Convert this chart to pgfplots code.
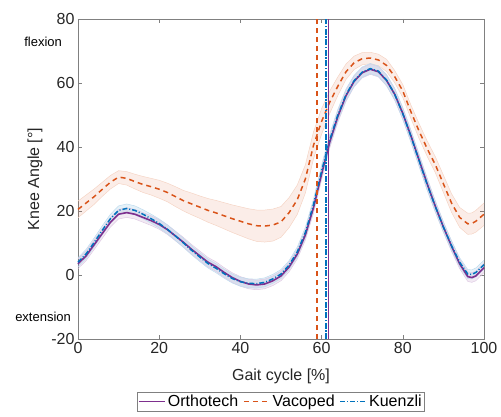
\documentclass[border=0pt]{standalone}
\usepackage{fontspec}
\setmainfont{Liberation Sans}
\usepackage{pgfplots}
\usepackage{pgfplotstable}
\pgfplotsset{compat=1.18}

\definecolor{orth}{RGB}{126,47,142}
\definecolor{vaco}{RGB}{217,83,25}
\definecolor{kuen}{RGB}{0,114,189}
\definecolor{axgray}{RGB}{128,128,128}
\definecolor{txt}{RGB}{38,38,38}

% mean curve (y) and half width of the shaded band (e)
\pgfplotstableread{
x y e
0 3.5 1.5
2 6 1.5
4 9.5 1.5
6 13 1.5
8 16.5 1.5
10 19 1.5
12 19.5 1.5
14 19 1.5
16 18 1.5
18 17 1.5
20 15.8 1.5
22 14.2 1.5
24 12.2 1.5
26 10.2 1.5
28 8 1.5
30 6 1.5
32 4 1.5
34 2.6 1.5
36 0.8 1.5
38 -0.8 1.5
40 -2 1.5
42 -2.8 1.5
44 -3.1 1.5
46 -2.8 1.5
48 -1.8 1.5
50 -0.3 1.5
52 2.5 1.5
54 6.5 1.5
56 12.5 1.6
58 21 1.7
60 31.5 1.8
62 41.5 1.8
64 49.5 1.8
66 56 1.8
68 60.5 1.7
70 63.2 1.6
72 64.3 1.6
74 63.5 1.6
76 60.8 1.7
78 56.5 1.8
80 50.5 1.8
82 43.5 1.8
84 36 1.8
86 28.5 1.8
88 21.5 1.7
90 15 1.6
92 9 1.6
94 3.5 1.5
96 -0.5 1.5
97 -0.8 1.5
98 -0.3 1.5
100 2.3 1.5
}\orthotech

\pgfplotstableread{
x y e
0 20.5 2.6
2 22.5 2.5
4 24.5 2.4
6 26.8 2.2
8 29 2.1
10 30.6 2
12 30.2 2.1
14 29.2 2.3
16 28.3 2.5
18 27.6 2.6
20 26.8 2.8
22 25.8 2.9
24 24.5 3.1
26 23.2 3.2
28 22.2 3.4
30 21.2 3.5
32 20.2 3.7
34 19.4 3.9
36 18.5 4.1
38 17.6 4.3
40 16.8 4.5
42 16 4.7
44 15.4 4.9
46 15.3 5
48 15.6 5
50 16.6 4.8
52 19.5 4.7
54 23.5 4.6
56 30 4.4
58 40.5 4.2
60 48 4
62 54 3.5
64 59 2.9
66 63.5 2.4
68 66.3 2.1
70 67.6 1.9
72 67.8 1.8
74 67.2 1.8
76 65.5 1.9
78 62 1.9
80 57.5 2
82 51 2.1
84 45 2.3
86 39.5 2.4
88 34.5 2.5
90 28.5 2.7
92 22.5 2.9
94 18 3.1
96 16 3.3
97 16.1 3.3
98 16.8 3.4
100 19 3.5
}\vacoped

\pgfplotstableread{
x y e
0 4 1.4
2 6.6 1.4
4 10.2 1.4
6 14 1.4
8 17.6 1.4
10 20.2 1.4
12 20.8 1.4
14 20.2 1.4
16 19 1.4
18 17.6 1.4
20 16.1 1.4
22 14.3 1.4
24 12.2 1.4
26 10 1.4
28 7.7 1.4
30 5.6 1.4
32 3.6 1.4
34 2.1 1.4
36 0.4 1.4
38 -1.1 1.4
40 -2.1 1.4
42 -2.6 1.4
44 -2.7 1.4
46 -2.3 1.4
48 -1.2 1.4
50 0.3 1.4
52 3.1 1.4
54 7.2 1.5
56 13.3 1.6
58 22 1.7
60 32.5 1.8
62 42.2 1.8
64 50 1.8
66 56.3 1.8
68 60.7 1.7
70 63.4 1.6
72 64.5 1.6
74 63.7 1.6
76 60.9 1.7
78 56.5 1.8
80 50.4 1.8
82 43.3 1.8
84 35.8 1.8
86 28.3 1.8
88 21.4 1.7
90 15 1.6
92 9.2 1.5
94 4 1.4
96 0.3 1.4
97 0.2 1.4
98 0.8 1.4
100 3.2 1.4
}\kuenzli

\begin{document}
\begin{tikzpicture}
\begin{axis}[
  scale only axis,
  width=406pt, height=320pt,
  xmin=0, xmax=100, ymin=-20, ymax=80,
  xtick={0,20,...,100}, ytick={-20,0,...,80},
  tick align=inside, major tick length=4pt,
  axis line style={axgray, line width=0.6pt},
  tick style={axgray, line width=0.6pt},
  /pgf/number format/assume math mode=true,
  ticklabel style={font=\fontsize{16}{19}\selectfont, text=txt},
  xlabel={Gait cycle [\%]}, ylabel={Knee Angle [°]},
  label style={font=\fontsize{16}{19}\selectfont, text=txt},
  xlabel style={at={(axis description cs:0.5,-0.118)}, anchor=center},
  ylabel style={at={(axis description cs:-0.106,0.5)}, anchor=center},
  clip=false,
  legend columns=3,
  legend style={at={(axis description cs:0.5,-0.165)}, anchor=north,
    draw=axgray, font=\fontsize{16}{19}\selectfont,
    inner sep=1pt, /tikz/every even column/.append style={column sep=3pt}},
  legend image code/.code={\draw[#1] (0pt,0pt) -- (26pt,0pt);},
]
% shaded bands: lower edge, then band width stacked on it, then back to zero
\addplot[draw=none, stack plots=y, forget plot] table[x=x, y expr=\thisrow{y}-\thisrow{e}] {\vacoped};
\addplot[fill=vaco, fill opacity=0.1, draw=none, stack plots=y, forget plot] table[x=x, y expr=2*\thisrow{e}] {\vacoped} \closedcycle;
\addplot[draw=none, stack plots=y, forget plot] table[x=x, y expr=-\thisrow{y}-\thisrow{e}] {\vacoped};

\addplot[draw=none, stack plots=y, forget plot] table[x=x, y expr=\thisrow{y}-\thisrow{e}] {\orthotech};
\addplot[fill=orth, fill opacity=0.1, draw=none, stack plots=y, forget plot] table[x=x, y expr=2*\thisrow{e}] {\orthotech} \closedcycle;
\addplot[draw=none, stack plots=y, forget plot] table[x=x, y expr=-\thisrow{y}-\thisrow{e}] {\orthotech};

\addplot[draw=none, stack plots=y, forget plot] table[x=x, y expr=\thisrow{y}-\thisrow{e}] {\kuenzli};
\addplot[fill=kuen, fill opacity=0.1, draw=none, stack plots=y, forget plot] table[x=x, y expr=2*\thisrow{e}] {\kuenzli} \closedcycle;
\addplot[draw=none, stack plots=y, forget plot] table[x=x, y expr=-\thisrow{y}-\thisrow{e}] {\kuenzli};

% band edges
\addplot[draw=vaco!25, line width=0.5pt, forget plot] table[x=x, y expr=\thisrow{y}+\thisrow{e}] {\vacoped};
\addplot[draw=vaco!25, line width=0.5pt, forget plot] table[x=x, y expr=\thisrow{y}-\thisrow{e}] {\vacoped};
\addplot[draw=orth!25, line width=0.5pt, forget plot] table[x=x, y expr=\thisrow{y}+\thisrow{e}] {\orthotech};
\addplot[draw=orth!25, line width=0.5pt, forget plot] table[x=x, y expr=\thisrow{y}-\thisrow{e}] {\orthotech};
\addplot[draw=kuen!25, line width=0.5pt, forget plot] table[x=x, y expr=\thisrow{y}+\thisrow{e}] {\kuenzli};
\addplot[draw=kuen!25, line width=0.5pt, forget plot] table[x=x, y expr=\thisrow{y}-\thisrow{e}] {\kuenzli};

% means
\addplot[color=orth, line width=1.6pt] table[x=x, y=y] {\orthotech};
\addlegendentry{Orthotech}
\addplot[color=vaco, line width=1.5pt, dash pattern=on 5pt off 4pt] table[x=x, y=y] {\vacoped};
\addlegendentry{Vacoped}
\addplot[color=kuen, line width=1.5pt, dash pattern=on 5pt off 2pt on 1pt off 2pt] table[x=x, y=y] {\kuenzli};
\addlegendentry{Kuenzli}

% toe-off lines
\addplot[color=vaco, line width=1.6pt, dash pattern=on 5pt off 4pt, forget plot] coordinates {(58.9,-20) (58.9,80)};
\addplot[color=kuen, line width=2pt, dash pattern=on 6pt off 1.5pt on 1.5pt off 1.5pt, forget plot] coordinates {(61.15,-20) (61.15,80)};
\addplot[color=orth, line width=1.6pt, forget plot] coordinates {(61.65,-20) (61.65,80)};

\node[font=\fontsize{13}{15}\selectfont, text=black] at (axis cs:-8.6,72.8) {flexion};
\node[font=\fontsize{13}{15}\selectfont, text=black] at (axis cs:-8.6,-13.1) {extension};
\end{axis}
\pgfresetboundingbox
\path (-78pt,-77pt) rectangle (423pt,339pt);
\end{tikzpicture}
\end{document}
